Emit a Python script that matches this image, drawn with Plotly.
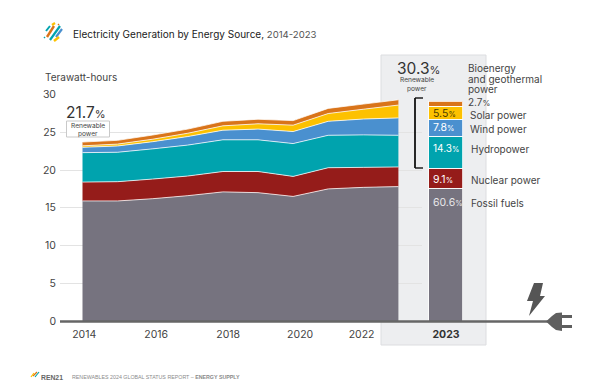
import plotly.graph_objects as go

W, H = 600, 392
years = list(range(2014, 2024))
fossil = [15.9, 15.9, 16.2, 16.6, 17.1, 17.0, 16.5, 17.5, 17.7, 17.8]
nuclear = [2.5, 2.55, 2.6, 2.6, 2.7, 2.8, 2.65, 2.8, 2.65, 2.6]
hydro = [3.9, 3.9, 4.0, 4.1, 4.2, 4.2, 4.35, 4.3, 4.3, 4.2]
wind = [0.7, 0.83, 0.95, 1.13, 1.27, 1.42, 1.59, 1.85, 2.1, 2.3]
solar = [0.2, 0.25, 0.33, 0.44, 0.58, 0.7, 0.85, 1.03, 1.3, 1.7]
bio = [0.5, 0.5, 0.55, 0.55, 0.6, 0.6, 0.6, 0.68, 0.68, 0.7]

names = ["Fossil fuels", "Nuclear power", "Hydropower", "Wind power", "Solar power", "Bioenergy"]
series = [fossil, nuclear, hydro, wind, solar, bio]
colors = ["#76737f", "#951c1a", "#00a3ae", "#4a90cf", "#fdc100", "#d9741a"]
bar_category = ["2023"]
bar_values = [17.6, 2.65, 4.15, 2.3, 1.65, 0.75]
tick_years = [2014.05, 2016.1, 2018.15, 2020.2, 2021.95]
tick_labels = ["2014", "2016", "2018", "2020", "2022"]
y_ticks = [0, 5, 10, 15, 20, 25, 30]

FONT = "Inter, Roboto, Arial, sans-serif"
TXT = "#444444"


def px(x):
    return x / W


def py(y):
    return 1 - y / H


fig = go.Figure()
for n, s, c in zip(names, series, colors):
    fig.add_trace(go.Scatter(x=years, y=s, name=n, stackgroup="a", mode="lines",
                             line=dict(color="rgba(255,255,255,0.75)", width=1),
                             fillcolor=c, hoverinfo="skip", showlegend=False))
for n, v, c in zip(names, bar_values, colors):
    fig.add_trace(go.Bar(x=bar_category, y=[v], name=n, xaxis="x2", yaxis="y2",
                         marker=dict(color=c, line=dict(color="rgba(255,255,255,0.8)", width=1)),
                         width=0.425, showlegend=False, hoverinfo="skip"))

shapes = []


def paper_shape(**k):
    shapes.append(dict(xref="paper", yref="paper", **k))


def pline(x0, y0, x1, y1, color, width, layer="above"):
    paper_shape(type="line", x0=px(x0), y0=py(y0), x1=px(x1), y1=py(y1),
                line=dict(color=color, width=width), layer=layer)


def ppath(points, color):
    d = "M " + " L ".join(f"{px(a):.5f},{py(b):.5f}" for a, b in points) + " Z"
    paper_shape(type="path", path=d, fillcolor=color, line=dict(width=0), layer="above")


# highlight panel
paper_shape(type="rect", x0=px(381), x1=px(486), y0=py(345), y1=py(55), fillcolor="#edeef0",
            line=dict(color="#dcdde0", width=1), layer="below")
# baseline / cord
pline(60, 321.5, 548, 321.5, "#666666", 2.5)
# bracket
pline(415, 98, 415, 168, "#111111", 1.8)
pline(415, 98, 423, 98, "#111111", 1.4)
pline(415, 168, 423, 168, "#111111", 1.4)
# plug
ppath([(546, 321.5), (552, 316), (556, 313), (562, 312.5), (562, 315), (572, 315), (572, 318), (562, 318),
       (562, 325), (572, 325), (572, 328), (562, 328), (562, 331), (556, 330), (552, 327)], "#5f5f5f")
# bolt
ppath([(534, 283), (543, 283), (540, 296), (545, 296), (529, 316), (533, 301), (527, 301)], "#555555")
# logo stripes
for (x0, y0, x1, y1, c, w) in [
    (47, 37, 54, 26, "#d9741a", 2.4), (50, 40, 60, 26, "#00a3ae", 2.2), (56, 37, 62, 29, "#4a90cf", 2.2),
    (46, 31, 50, 26, "#00a3ae", 2), (52, 25, 55, 23, "#fdc100", 2.2), (54, 41, 59, 37, "#fdc100", 2.4),
    (44, 38, 45, 37, "#00a3ae", 1.5), (58, 25, 59, 24, "#d9741a", 1.5), (33, 376, 37, 372, "#d9741a", 1.2),
    (35, 377, 39, 372, "#00a3ae", 1.2), (31, 377, 34, 373, "#fdc100", 1.2)]:
    pline(x0, y0, x1, y1, c, w)
# left label box
paper_shape(type="rect", x0=px(66.5), x1=px(109.5), y0=py(137), y1=py(121), fillcolor="#ffffff",
            line=dict(color="#c9c9c9", width=1), layer="above")

annotations = []


def text(x, y, s, size=10, color=TXT, anchor="left", family=FONT):
    annotations.append(dict(xref="paper", yref="paper", x=px(x - 2 if anchor == "left" else x), y=py(y), text=s,
                            showarrow=False, xanchor=anchor, yanchor="middle", align=anchor,
                            font=dict(size=size, color=color, family=family)))


def pct(v, small=7.5):
    return f"{v}<span style='font-size:{small}px'>%</span>"


text(73, 33.5, "Electricity Generation by Energy Source,<span style='color:#555555;font-size:9.6px'> 2014-2023</span>", 10, "#222222")
text(45, 76.5, "Terawatt-hours", 10)
text(66, 113, "21.7<span style='font-size:11px'>%</span>", 15.5, "#333333")
text(88, 125.5, "Renewable", 6.6, "#444444", anchor="center")
text(88, 133.5, "power", 6.6, "#444444", anchor="center")
text(397, 68.5, "30.3<span style='font-size:11px'>%</span>", 15.5, "#333333")
text(417, 80.5, "Renewable", 6.6, "#444444", anchor="center")
text(417, 89, "power", 6.6, "#444444", anchor="center")
text(468, 68, "Bioenergy", 10)
text(468, 78.5, "and geothermal", 10)
text(468, 89, "power", 10)
text(468, 102, "2.7<span style='font-size:8px'>%</span>", 10)
text(470, 115, "Solar power", 10)
text(470, 128.5, "Wind power", 10)
text(471, 149, "Hydropower", 10)
text(471, 179.5, "Nuclear power", 10)
text(471, 203, "Fossil fuels", 10)
text(433, 113.5, pct("5.5"), 10.5, "#4a3a00")
text(433, 128, pct("7.8"), 10.5, "#ffffff")
text(433, 148, pct("14.3"), 10, "#ffffff")
text(433, 179, pct("9.1"), 10.5, "#ffffff")
text(433, 202.5, pct("60.6"), 10.5, "#e8e8ea")
text(41, 377, "<b>REN21</b>", 6.8, "#666666", family="Liberation Sans, Arial")
text(72, 377, "RENEWABLES 2024 GLOBAL STATUS REPORT – <b>ENERGY SUPPLY</b>", 5.3, "#8a8a8a",
     family="Liberation Sans, Arial")

fig.update_layout(
    width=W, height=H, margin=dict(l=0, r=0, t=0, b=0), autosize=False,
    paper_bgcolor="#ffffff", plot_bgcolor="rgba(0,0,0,0)", barmode="stack", bargap=0,
    font=dict(family=FONT, color=TXT, size=10),
    shapes=shapes, annotations=annotations,
    xaxis=dict(domain=[px(60), px(422)], range=[2013.359, 2023.672], tickmode="array", tickvals=tick_years,
               ticktext=tick_labels, showgrid=False, zeroline=False, ticks="", showline=False, automargin=False,
               ticklabelstandoff=5, tickfont=dict(size=10.5, color="#444444")),
    xaxis2=dict(domain=[px(406), px(486)], anchor="y2", type="category", range=[-0.5, 0.5], showgrid=False,
                zeroline=False, ticks="", automargin=False, ticklabelstandoff=5,
                tickfont=dict(size=10.5, color="#333333"), tickprefix="<b>", ticksuffix="</b>"),
    yaxis=dict(domain=[py(321), py(94.5)], range=[0, 30], tickvals=y_ticks, showgrid=True, gridcolor="#e3e3e3",
               gridwidth=1.2, zeroline=False, ticks="", showline=False, automargin=False,
               ticklabelstandoff=3, tickfont=dict(size=10.5, color="#444444")),
    yaxis2=dict(domain=[py(321), py(94.5)], range=[0, 30], anchor="x2", showgrid=False, zeroline=False,
                showticklabels=False, ticks="", showline=False, automargin=False),
)
fig.write_html("out.html", config={"displayModeBar": False},
               post_script="document.body.style.margin='0';document.body.style.overflow='hidden';window.dispatchEvent(new Event('resize'));")
